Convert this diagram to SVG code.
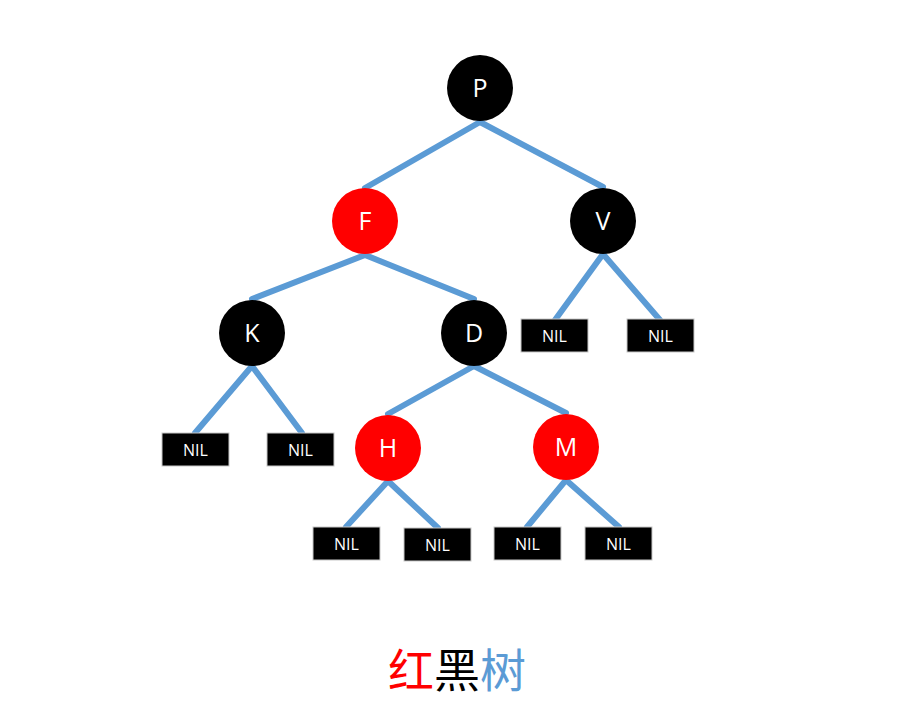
<svg xmlns="http://www.w3.org/2000/svg" width="911" height="711" viewBox="0 0 911 711">
<style>
.edge{stroke:#5B9BD5;stroke-width:6;stroke-linecap:round;fill:none}
.blk{fill:#000000}
.red{fill:#FF0000}
.nil{fill:#000000;stroke:#C8C8C8;stroke-width:1}
.lbl{fill:#FFFFFF;font-family:"Open Sans","Liberation Sans",sans-serif;font-size:25px;text-anchor:middle}
.nl{fill:#FFFFFF;font-family:"Open Sans","Liberation Sans",sans-serif;font-size:16px;text-anchor:middle}
.title{font-family:"Noto Sans CJK SC",sans-serif;font-size:46px;text-anchor:middle}
</style>
<rect width="911" height="711" fill="#FFFFFF"/>
<g id="connectors">
<line class="edge" x1="480" y1="122" x2="365" y2="188"/>
<line class="edge" x1="480" y1="122" x2="603" y2="187"/>
<line class="edge" x1="365" y1="255" x2="252" y2="299"/>
<line class="edge" x1="365" y1="255" x2="474" y2="299"/>
<line class="edge" x1="603" y1="254" x2="555" y2="320"/>
<line class="edge" x1="603" y1="254" x2="660" y2="320"/>
<line class="edge" x1="252" y1="366" x2="195" y2="433"/>
<line class="edge" x1="252" y1="366" x2="302" y2="433"/>
<line class="edge" x1="474" y1="366" x2="388" y2="414"/>
<line class="edge" x1="474" y1="366" x2="566" y2="413"/>
<line class="edge" x1="388" y1="481" x2="346" y2="527"/>
<line class="edge" x1="388" y1="481" x2="438" y2="528"/>
<line class="edge" x1="566" y1="480" x2="527" y2="527"/>
<line class="edge" x1="566" y1="480" x2="619" y2="527"/>
</g>
<g id="node-P"><circle class="blk" cx="480" cy="88" r="33"/><text class="lbl" x="480" y="97">P</text></g>
<g id="node-F"><circle class="red" cx="365" cy="221" r="33"/><text class="lbl" x="365" y="230">F</text></g>
<g id="node-V"><circle class="blk" cx="603" cy="221" r="33"/><text class="lbl" x="603" y="230">V</text></g>
<g id="node-K"><circle class="blk" cx="252" cy="333" r="33"/><text class="lbl" x="252" y="342">K</text></g>
<g id="node-D"><circle class="blk" cx="474" cy="333" r="33"/><text class="lbl" x="474" y="342">D</text></g>
<g id="node-H"><circle class="red" cx="388" cy="448" r="33"/><text class="lbl" x="388" y="457">H</text></g>
<g id="node-M"><circle class="red" cx="566" cy="447" r="33"/><text class="lbl" x="566" y="456">M</text></g>
<g id="nil-V1"><rect class="nil" x="521" y="319" width="67" height="33"/><text class="nl" x="554.5" y="341.5">NIL</text></g>
<g id="nil-V2"><rect class="nil" x="627" y="319" width="67" height="33"/><text class="nl" x="660.5" y="341.5">NIL</text></g>
<g id="nil-K1"><rect class="nil" x="162" y="433" width="67" height="33"/><text class="nl" x="195.5" y="455.5">NIL</text></g>
<g id="nil-K2"><rect class="nil" x="267" y="433" width="67" height="33"/><text class="nl" x="300.5" y="455.5">NIL</text></g>
<g id="nil-H1"><rect class="nil" x="313" y="527" width="67" height="33"/><text class="nl" x="346.5" y="549.5">NIL</text></g>
<g id="nil-H2"><rect class="nil" x="404" y="528" width="67" height="33"/><text class="nl" x="437.5" y="550.5">NIL</text></g>
<g id="nil-M1"><rect class="nil" x="494" y="527" width="67" height="33"/><text class="nl" x="527.5" y="549.5">NIL</text></g>
<g id="nil-M2"><rect class="nil" x="585" y="527" width="67" height="33"/><text class="nl" x="618.5" y="549.5">NIL</text></g>
<g id="title"><text class="title" x="457" y="687"><tspan fill="#FF0000">红</tspan><tspan fill="#000000">黑</tspan><tspan fill="#5B9BD5">树</tspan></text></g>
</svg>
